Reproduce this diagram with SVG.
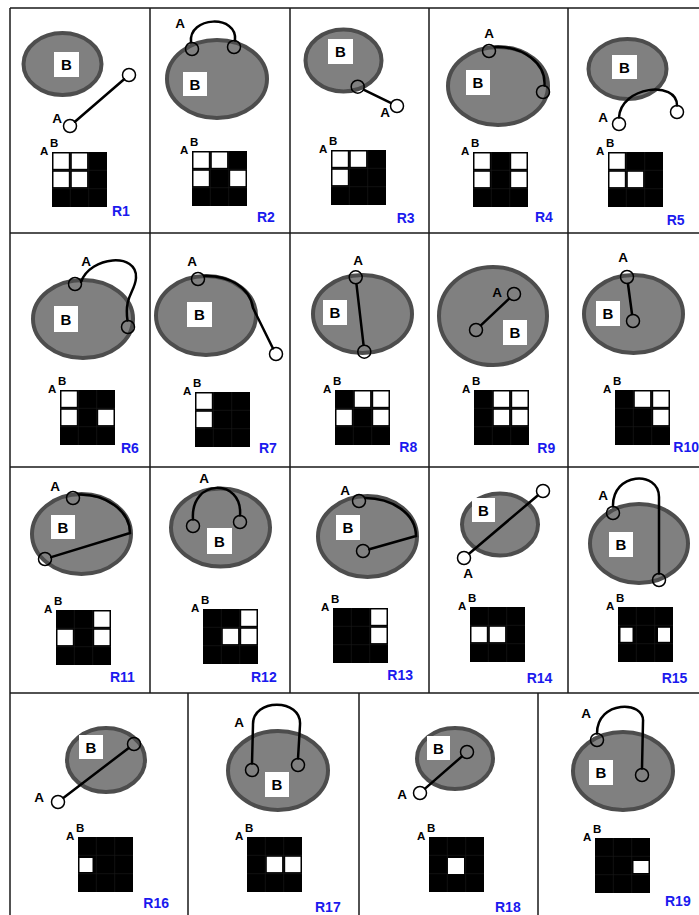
<svg xmlns="http://www.w3.org/2000/svg" width="699" height="915" viewBox="0 0 699 915">
<defs>
<filter id="soft" x="-10%" y="-10%" width="120%" height="120%"><feGaussianBlur stdDeviation="0.7"/></filter>
<g id="mx"><rect width="55" height="55" fill="#000"/><path d="M18.3,0V55M36.7,0V55M0,18.3H55M0,36.7H55" stroke="#1c1c1c" stroke-width="0.6" fill="none"/></g>
<rect id="w" width="15.3" height="15.3" fill="#fff"/>
</defs>
<style>
.grid{stroke:#1a1a1a;stroke-width:1.5;fill:none}
.ell{fill:#808080;stroke:#4d4d4d;stroke-width:4;filter:url(#soft)}
.bx{fill:#fff}
.t{font-family:"Liberation Sans",Arial,sans-serif;font-weight:bold;fill:#000}
.tb{font-size:15px;text-anchor:middle}
.ta{font-size:13.5px;text-anchor:middle}
.ts{font-size:11.5px}
.rl{font-family:"Liberation Sans",Arial,sans-serif;font-weight:bold;font-size:14px;fill:#1a1aee}
.ln{stroke:#000;stroke-width:2.5;fill:none;stroke-linecap:round}
.c{fill:none;stroke:#000;stroke-width:1.5}
</style>
<rect width="699" height="915" fill="#fff"/>
<g id="gridlines" class="grid">
<path d="M10,8H699M10,233H699M10,467H699M10,693H699"/>
<path d="M10,8V915M150,8V693M290,8V693M429,8V693M568,8V693"/>
<path d="M188,693V915M359,693V915M538,693V915"/>
</g>

<g id="r1">
<ellipse class="ell" cx="62.5" cy="64" rx="39" ry="31"/>
<rect class="bx" x="54" y="52" width="25" height="25"/>
<text class="t tb" x="66.5" y="70">B</text>
<line class="ln" x1="74.9" y1="121.7" x2="124.1" y2="79.3"/>
<circle class="c" cx="70" cy="126" r="6.5"/>
<circle class="c" cx="129" cy="75" r="6.5"/>
<text class="t ta" x="57" y="122.5">A</text>
<g transform="translate(52,152)"><use href="#mx"/><use href="#w" x="1.5" y="1.5"/><use href="#w" x="19.8" y="1.5"/><use href="#w" x="1.5" y="19.8"/><use href="#w" x="19.8" y="19.8"/></g>
<text class="t ts" x="40" y="155">A</text><text class="t ts" x="50" y="147">B</text>
<text class="rl" x="112" y="216">R1</text>
</g>

<g id="r2">
<ellipse class="ell" cx="217" cy="79" rx="50" ry="39"/>
<rect class="bx" x="183" y="72" width="24" height="24"/>
<text class="t tb" x="195" y="89.5">B</text>
<path class="ln" d="M191,42.5 C188,16 238,14 235,40.5"/>
<circle class="c" cx="192" cy="49" r="6.5"/>
<circle class="c" cx="234" cy="47" r="6.5"/>
<text class="t ta" x="180" y="27.5">A</text>
<g transform="translate(192,151)"><use href="#mx"/><use href="#w" x="1.5" y="1.5"/><use href="#w" x="19.8" y="1.5"/><use href="#w" x="1.5" y="19.8"/><use href="#w" x="38.2" y="19.8"/></g>
<text class="t ts" x="180" y="154">A</text><text class="t ts" x="190" y="146">B</text>
<text class="rl" x="257" y="222">R2</text>
</g>

<g id="r3">
<ellipse class="ell" cx="343.5" cy="60.5" rx="38" ry="31"/>
<rect class="bx" x="328" y="39" width="25" height="25"/>
<text class="t tb" x="340.5" y="57">B</text>
<line class="ln" x1="364" y1="89.8" x2="390.7" y2="102.9"/>
<circle class="c" cx="357.7" cy="86.7" r="6.5"/>
<circle class="c" cx="397" cy="106" r="6.5"/>
<text class="t ta" x="385" y="116.5">A</text>
<g transform="translate(331,150)"><use href="#mx"/><use href="#w" x="1.5" y="1.5"/><use href="#w" x="19.8" y="1.5"/><use href="#w" x="1.5" y="19.8"/></g>
<text class="t ts" x="319" y="153">A</text><text class="t ts" x="329" y="145">B</text>
<text class="rl" x="396.7" y="223">R3</text>
</g>

<g id="r4">
<ellipse class="ell" cx="498" cy="86" rx="50" ry="39"/>
<rect class="bx" x="466" y="70" width="24" height="25"/>
<text class="t tb" x="478" y="87.5">B</text>
<path class="ln" d="M495,47 C524,46 546,64 544.5,85.6"/>
<circle class="c" cx="489" cy="51" r="6.5"/>
<circle class="c" cx="543" cy="92" r="6.5"/>
<text class="t ta" x="489" y="37.5">A</text>
<g transform="translate(473,152)"><use href="#mx"/><use href="#w" x="1.5" y="1.5"/><use href="#w" x="38.2" y="1.5"/><use href="#w" x="1.5" y="19.8"/><use href="#w" x="38.2" y="19.8"/></g>
<text class="t ts" x="461" y="155">A</text><text class="t ts" x="471" y="147">B</text>
<text class="rl" x="535" y="222">R4</text>
</g>

<g id="r5">
<ellipse class="ell" cx="627.5" cy="69" rx="39" ry="30"/>
<rect class="bx" x="612" y="55" width="25" height="24"/>
<text class="t tb" x="624.5" y="72.5">B</text>
<path class="ln" d="M619,117.5 C621,86 677,80 677,105.5"/>
<circle class="c" cx="619" cy="124" r="6.5"/>
<circle class="c" cx="677" cy="112" r="6.5"/>
<text class="t ta" x="603" y="121.5">A</text>
<g transform="translate(608,152)"><use href="#mx"/><use href="#w" x="1.5" y="1.5"/><use href="#w" x="1.5" y="19.8"/><use href="#w" x="19.8" y="19.8"/></g>
<text class="t ts" x="596" y="155">A</text><text class="t ts" x="606" y="147">B</text>
<text class="rl" x="666.7" y="225">R5</text>
</g>

<g id="r6">
<ellipse class="ell" cx="83" cy="319" rx="50" ry="39"/>
<rect class="bx" x="54" y="306" width="24" height="26"/>
<text class="t tb" x="66" y="324.5">B</text>
<path class="ln" d="M81,282 C90,256 138,252 136,278 C135,292 124,296 127.5,320.5"/>
<circle class="c" cx="75" cy="284" r="6.5"/>
<circle class="c" cx="128" cy="327" r="6.5"/>
<text class="t ta" x="86" y="265.5">A</text>
<g transform="translate(60,390)"><use href="#mx"/><use href="#w" x="1.5" y="1.5"/><use href="#w" x="1.5" y="19.8"/><use href="#w" x="38.2" y="19.8"/></g>
<text class="t ts" x="48" y="393">A</text><text class="t ts" x="58" y="385">B</text>
<text class="rl" x="121" y="453">R6</text>
</g>

<g id="r7">
<ellipse class="ell" cx="206" cy="315.5" rx="50" ry="39.5"/>
<rect class="bx" x="187" y="302" width="25" height="25"/>
<text class="t tb" x="199.5" y="319.5">B</text>
<path class="ln" d="M204,276 C228,275 250,287 253,308 L273,348.5"/>
<circle class="c" cx="198" cy="279" r="6.5"/>
<circle class="c" cx="276" cy="354" r="6.5"/>
<text class="t ta" x="192" y="265.5">A</text>
<g transform="translate(195,392)"><use href="#mx"/><use href="#w" x="1.5" y="1.5"/><use href="#w" x="1.5" y="19.8"/></g>
<text class="t ts" x="183" y="395">A</text><text class="t ts" x="193" y="387">B</text>
<text class="rl" x="259" y="452.7">R7</text>
</g>

<g id="r8">
<ellipse class="ell" cx="362.5" cy="314" rx="49.5" ry="39"/>
<rect class="bx" x="323" y="300" width="24" height="25"/>
<text class="t tb" x="335" y="317.5">B</text>
<line class="ln" x1="356.5" y1="284.3" x2="363.5" y2="344.7"/>
<circle class="c" cx="355.7" cy="277.3" r="6.5"/>
<circle class="c" cx="364.3" cy="351.7" r="6.5"/>
<text class="t ta" x="358" y="264.5">A</text>
<g transform="translate(335,390)"><use href="#mx"/><use href="#w" x="19.8" y="1.5"/><use href="#w" x="38.2" y="1.5"/><use href="#w" x="1.5" y="19.8"/><use href="#w" x="38.2" y="19.8"/></g>
<text class="t ts" x="323" y="393">A</text><text class="t ts" x="333" y="385">B</text>
<text class="rl" x="399.3" y="451.7">R8</text>
</g>

<g id="r9">
<ellipse class="ell" cx="493" cy="316" rx="54" ry="49"/>
<rect class="bx" x="503" y="320" width="24" height="25"/>
<text class="t tb" x="515" y="337.5">B</text>
<line class="ln" x1="481.1" y1="325.2" x2="508.9" y2="298.8"/>
<circle class="c" cx="476" cy="330" r="6.5"/>
<circle class="c" cx="514" cy="294" r="6.5"/>
<text class="t ta" x="497" y="296.5">A</text>
<g transform="translate(474,390)"><use href="#mx"/><use href="#w" x="19.8" y="1.5"/><use href="#w" x="38.2" y="1.5"/><use href="#w" x="19.8" y="19.8"/><use href="#w" x="38.2" y="19.8"/></g>
<text class="t ts" x="462" y="393">A</text><text class="t ts" x="472" y="385">B</text>
<text class="rl" x="537.3" y="453.3">R9</text>
</g>

<g id="r10">
<ellipse class="ell" cx="633.5" cy="314" rx="49.5" ry="39"/>
<rect class="bx" x="596" y="301" width="24" height="25"/>
<text class="t tb" x="608" y="318.5">B</text>
<line class="ln" x1="628" y1="284" x2="632" y2="314"/>
<circle class="c" cx="627" cy="277" r="6.5"/>
<circle class="c" cx="633" cy="321" r="6.5"/>
<text class="t ta" x="623" y="261.5">A</text>
<g transform="translate(615,390)"><use href="#mx"/><use href="#w" x="19.8" y="1.5"/><use href="#w" x="38.2" y="1.5"/><use href="#w" x="38.2" y="19.8"/></g>
<text class="t ts" x="603" y="393">A</text><text class="t ts" x="613" y="385">B</text>
<text class="rl" x="673.3" y="451.7">R10</text>
</g>

<g id="r11">
<ellipse class="ell" cx="81.5" cy="534" rx="49.5" ry="40"/>
<rect class="bx" x="51" y="515" width="24" height="24"/>
<text class="t tb" x="63" y="532.5">B</text>
<path class="ln" d="M79,494.5 C105,494 130,510 130,533 L51.2,557.1"/>
<circle class="c" cx="73" cy="498" r="6.5"/>
<circle class="c" cx="45" cy="559" r="6.5"/>
<text class="t ta" x="55" y="490.5">A</text>
<g transform="translate(56,610)"><use href="#mx"/><use href="#w" x="38.2" y="1.5"/><use href="#w" x="1.5" y="19.8"/><use href="#w" x="38.2" y="19.8"/></g>
<text class="t ts" x="44" y="613">A</text><text class="t ts" x="54" y="605">B</text>
<text class="rl" x="110" y="681.7">R11</text>
</g>

<g id="r12">
<ellipse class="ell" cx="220.5" cy="527.5" rx="49.5" ry="39"/>
<rect class="bx" x="207" y="528" width="25" height="26"/>
<text class="t tb" x="219.5" y="546.5">B</text>
<path class="ln" d="M193,519.5 C190,478 243,478 240,515.5"/>
<circle class="c" cx="193" cy="526" r="6.5"/>
<circle class="c" cx="240" cy="522" r="6.5"/>
<text class="t ta" x="204" y="482.5">A</text>
<g transform="translate(203,609)"><use href="#mx"/><use href="#w" x="38.2" y="1.5"/><use href="#w" x="19.8" y="19.8"/><use href="#w" x="38.2" y="19.8"/></g>
<text class="t ts" x="191" y="612">A</text><text class="t ts" x="201" y="604">B</text>
<text class="rl" x="251" y="682">R12</text>
</g>

<g id="r13">
<ellipse class="ell" cx="367.5" cy="536.5" rx="49.5" ry="40.5"/>
<rect class="bx" x="336" y="515" width="24" height="25"/>
<text class="t tb" x="348" y="532.5">B</text>
<path class="ln" d="M365,498 C391,498 416,513 416,536 L369.3,549.3"/>
<circle class="c" cx="359" cy="501" r="6.5"/>
<circle class="c" cx="363" cy="551" r="6.5"/>
<text class="t ta" x="345" y="494.5">A</text>
<g transform="translate(333,608)"><use href="#mx"/><use href="#w" x="38.2" y="1.5"/><use href="#w" x="38.2" y="19.8"/></g>
<text class="t ts" x="321" y="611">A</text><text class="t ts" x="331" y="603">B</text>
<text class="rl" x="387.3" y="680">R13</text>
</g>

<g id="r14">
<ellipse class="ell" cx="500" cy="524.5" rx="38" ry="31"/>
<rect class="bx" x="472" y="498" width="23" height="24"/>
<text class="t tb" x="483.5" y="515.5">B</text>
<line class="ln" x1="469.3" y1="553.5" x2="537.7" y2="495.5"/>
<circle class="c" cx="464" cy="558" r="6.5"/>
<circle class="c" cx="543" cy="491" r="6.5"/>
<text class="t ta" x="468" y="577.5">A</text>
<g transform="translate(470,607)"><use href="#mx"/><use href="#w" x="1.5" y="19.8"/><use href="#w" x="19.8" y="19.8"/></g>
<text class="t ts" x="458" y="610">A</text><text class="t ts" x="468" y="602">B</text>
<text class="rl" x="526.7" y="683.3">R14</text>
</g>

<g id="r15">
<ellipse class="ell" cx="639" cy="543.5" rx="49" ry="39.5"/>
<rect class="bx" x="609" y="532" width="24" height="25"/>
<text class="t tb" x="621" y="549.5">B</text>
<path class="ln" d="M613,506.5 C612,472 659,470 659,497 L659,573.5"/>
<circle class="c" cx="613" cy="513" r="6.5"/>
<circle class="c" cx="659" cy="580" r="6.5"/>
<text class="t ta" x="603" y="499.5">A</text>
<g transform="translate(618,607)"><use href="#mx"/><rect x="2.5" y="20.8" width="12" height="14" fill="#fff"/><rect x="40" y="20.8" width="12" height="14" fill="#fff"/></g>
<text class="t ts" x="606" y="610">A</text><text class="t ts" x="616" y="602">B</text>
<text class="rl" x="661.7" y="683.3">R15</text>
</g>

<g id="r16">
<ellipse class="ell" cx="106" cy="760" rx="39" ry="32"/>
<rect class="bx" x="79" y="735" width="24" height="24"/>
<text class="t tb" x="91" y="752.5">B</text>
<line class="ln" x1="63.6" y1="797.8" x2="128.4" y2="748.2"/>
<circle class="c" cx="58" cy="802" r="6.5"/>
<circle class="c" cx="134" cy="744" r="6.5"/>
<text class="t ta" x="39" y="801.5">A</text>
<g transform="translate(78,837)"><use href="#mx"/><rect x="1.5" y="21" width="13" height="14" fill="#fff"/></g>
<text class="t ts" x="66" y="840">A</text><text class="t ts" x="76" y="832">B</text>
<text class="rl" x="143.3" y="908.3">R16</text>
</g>

<g id="r17">
<ellipse class="ell" cx="278" cy="770.5" rx="50" ry="39.5"/>
<rect class="bx" x="265" y="772" width="24" height="25"/>
<text class="t tb" x="277" y="789.5">B</text>
<path class="ln" d="M252,763.5 L253,725 C252,698 302,698 300,725 L298,758.5"/>
<circle class="c" cx="252" cy="770" r="6.5"/>
<circle class="c" cx="298" cy="765" r="6.5"/>
<text class="t ta" x="239" y="726.5">A</text>
<g transform="translate(247,837)"><use href="#mx"/><use href="#w" x="19.8" y="19.8"/><use href="#w" x="38.2" y="19.8"/></g>
<text class="t ts" x="235" y="840">A</text><text class="t ts" x="245" y="832">B</text>
<text class="rl" x="315" y="911.7">R17</text>
</g>

<g id="r18">
<ellipse class="ell" cx="455" cy="758.5" rx="38" ry="30.5"/>
<rect class="bx" x="427" y="736" width="23" height="24"/>
<text class="t tb" x="438.5" y="753.5">B</text>
<line class="ln" x1="425.3" y1="788.4" x2="461.7" y2="756.6"/>
<circle class="c" cx="420" cy="793" r="6.5"/>
<circle class="c" cx="467" cy="752" r="6.5"/>
<text class="t ta" x="402" y="798.5">A</text>
<g transform="translate(429,837)"><use href="#mx"/><rect x="19" y="21" width="16" height="16" fill="#fff"/></g>
<text class="t ts" x="417" y="840">A</text><text class="t ts" x="427" y="832">B</text>
<text class="rl" x="495" y="911.7">R18</text>
</g>

<g id="r19">
<ellipse class="ell" cx="623" cy="771" rx="50" ry="39"/>
<rect class="bx" x="589" y="760" width="24" height="25"/>
<text class="t tb" x="601" y="777.5">B</text>
<path class="ln" d="M597,733.5 C597,700 645,700 643,722 L642,768.5"/>
<circle class="c" cx="597" cy="740" r="6.5"/>
<circle class="c" cx="642" cy="775" r="6.5"/>
<text class="t ta" x="586" y="717.5">A</text>
<g transform="translate(595,838)"><use href="#mx"/><rect x="38.5" y="23" width="15" height="12" fill="#fff"/></g>
<text class="t ts" x="583" y="841">A</text><text class="t ts" x="593" y="833">B</text>
<text class="rl" x="665" y="906">R19</text>
</g>
</svg>
